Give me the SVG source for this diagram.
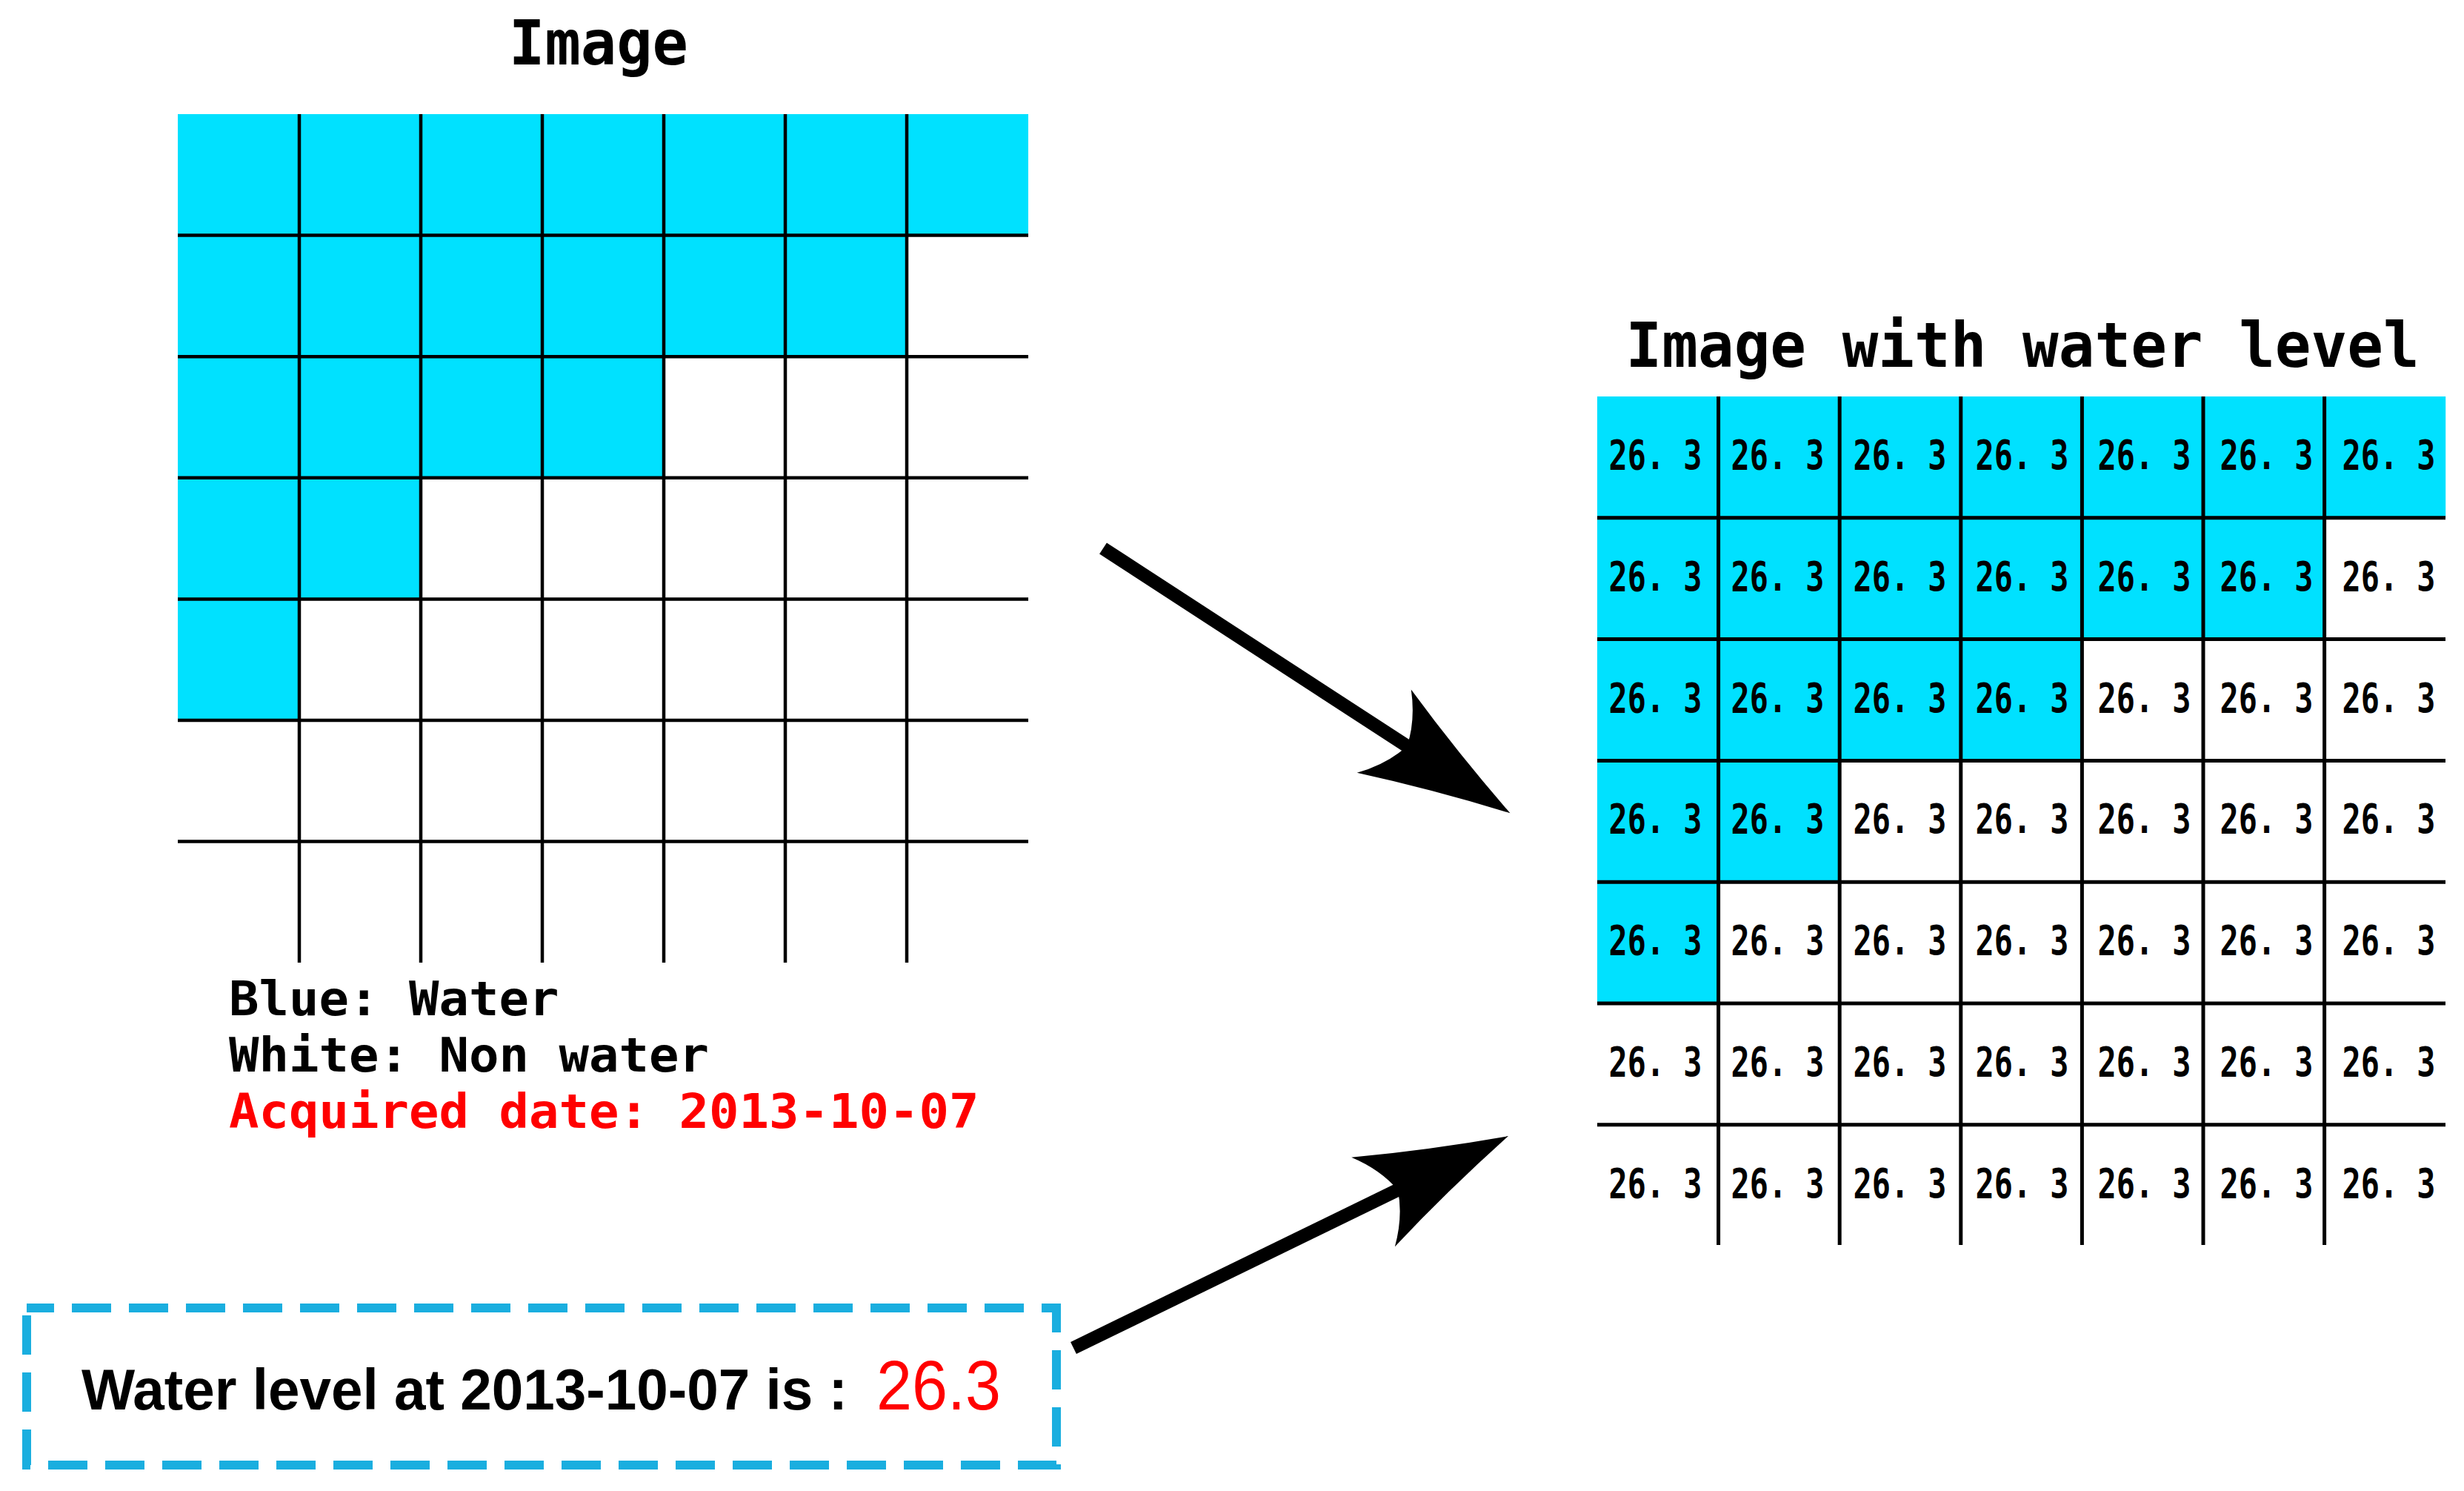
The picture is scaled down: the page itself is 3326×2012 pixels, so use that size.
<svg xmlns="http://www.w3.org/2000/svg" width="3326" height="2012" viewBox="0 0 3326 2012">
<defs>
<style>
.blue{fill:#00E1FF}
.gl{stroke:#000;stroke-width:4.5;fill:none}
.gr{stroke:#000;stroke-width:5;fill:none}
.title{font-family:"DejaVu Sans Mono","Liberation Mono",monospace;font-size:84px;font-weight:bold;fill:#000}
.legend{font-family:"DejaVu Sans Mono","Liberation Mono",monospace;font-size:64.5px;font-weight:bold;fill:#000}
.num{font-family:"DejaVu Sans Mono","Liberation Mono",monospace;font-size:55px;font-weight:bold;fill:#000;text-anchor:middle}
.red{fill:#FF0000}
.boxtxt{font-family:"Liberation Sans",Arial,sans-serif;font-size:77px;font-weight:bold;fill:#000}
.boxval{font-family:"Liberation Sans",Arial,sans-serif;font-size:94px;fill:#FF0000}
.arrow{stroke:#000;stroke-width:18;fill:none;stroke-linecap:butt}
.dash{fill:none;stroke:#1AAEDF;stroke-width:12;stroke-dasharray:53 24;stroke-dashoffset:16}
</style>
<marker id="ah" markerUnits="userSpaceOnUse" markerWidth="220" markerHeight="160" viewBox="-60 -80 220 160" refX="0" refY="0" orient="auto">
<path d="M155,0 Q50,-30 -48,-67 Q-20,-35 -11,0 Q-20,35 -48,67 Q50,30 155,0 Z" fill="#000"/>
</marker>
</defs>
<rect width="3326" height="2012" fill="#fff"/>

<g id="image-grid">
<text class="title" x="687" y="87" textLength="242" lengthAdjust="spacingAndGlyphs">Image</text>
<rect class="blue" x="240" y="154" width="1148" height="163.6"/>
<rect class="blue" x="240" y="317.6" width="984" height="163.6"/>
<rect class="blue" x="240" y="481.2" width="656" height="163.6"/>
<rect class="blue" x="240" y="644.8" width="328" height="163.6"/>
<rect class="blue" x="240" y="808.4" width="164" height="163.6"/>
<path class="gl" d="M240,317.6H1388M240,481.2H1388M240,644.8H1388M240,808.4H1388M240,972H1388M240,1135.6H1388M404,154V1299M568,154V1299M732,154V1299M896,154V1299M1060,154V1299M1224,154V1299"/>
</g>

<g id="legend">
<text class="legend" x="309" y="1370" textLength="445.5" lengthAdjust="spacingAndGlyphs">Blue: Water</text>
<text class="legend" x="309" y="1446" textLength="648" lengthAdjust="spacingAndGlyphs">White: Non water</text>
<text class="legend red" x="309" y="1522" textLength="1012.5" lengthAdjust="spacingAndGlyphs">Acquired date: 2013-10-07</text>
</g>

<g id="water-level-box">
<rect class="dash" x="36" y="1765" width="1390" height="212"/>
<text class="boxtxt" x="110" y="1902" textLength="1034" lengthAdjust="spacingAndGlyphs">Water level at 2013-10-07 is :</text>
<text class="boxval" x="1183" y="1902" textLength="168" lengthAdjust="spacingAndGlyphs">26.3</text>
</g>

<g id="image-with-water-level">
<text class="title" x="2194.6" y="495" textLength="1071" lengthAdjust="spacingAndGlyphs">Image with water level</text>
<rect class="blue" x="2156" y="535" width="1145.2" height="163.8"/>
<rect class="blue" x="2156" y="698.8" width="981.6" height="163.8"/>
<rect class="blue" x="2156" y="862.6" width="654.4" height="163.8"/>
<rect class="blue" x="2156" y="1026.4" width="327.2" height="163.8"/>
<rect class="blue" x="2156" y="1190.2" width="163.6" height="163.8"/>
<path class="gr" d="M2156,698.8H3301M2156,862.6H3301M2156,1026.4H3301M2156,1190.2H3301M2156,1354H3301M2156,1517.8H3301M2319.6,535V1680M2483.2,535V1680M2646.8,535V1680M2810.4,535V1680M2974,535V1680M3137.6,535V1680"/>
<g id="values">
<g transform="translate(0,633)">
<text class="num" x="2234.5" textLength="126" lengthAdjust="spacingAndGlyphs">26. 3</text><text class="num" x="2399.5" textLength="126" lengthAdjust="spacingAndGlyphs">26. 3</text><text class="num" x="2564.5" textLength="126" lengthAdjust="spacingAndGlyphs">26. 3</text><text class="num" x="2729.5" textLength="126" lengthAdjust="spacingAndGlyphs">26. 3</text><text class="num" x="2894.5" textLength="126" lengthAdjust="spacingAndGlyphs">26. 3</text><text class="num" x="3059.5" textLength="126" lengthAdjust="spacingAndGlyphs">26. 3</text><text class="num" x="3224.5" textLength="126" lengthAdjust="spacingAndGlyphs">26. 3</text>
</g>
<g transform="translate(0,796.8)">
<text class="num" x="2234.5" textLength="126" lengthAdjust="spacingAndGlyphs">26. 3</text><text class="num" x="2399.5" textLength="126" lengthAdjust="spacingAndGlyphs">26. 3</text><text class="num" x="2564.5" textLength="126" lengthAdjust="spacingAndGlyphs">26. 3</text><text class="num" x="2729.5" textLength="126" lengthAdjust="spacingAndGlyphs">26. 3</text><text class="num" x="2894.5" textLength="126" lengthAdjust="spacingAndGlyphs">26. 3</text><text class="num" x="3059.5" textLength="126" lengthAdjust="spacingAndGlyphs">26. 3</text><text class="num" x="3224.5" textLength="126" lengthAdjust="spacingAndGlyphs">26. 3</text>
</g>
<g transform="translate(0,960.6)">
<text class="num" x="2234.5" textLength="126" lengthAdjust="spacingAndGlyphs">26. 3</text><text class="num" x="2399.5" textLength="126" lengthAdjust="spacingAndGlyphs">26. 3</text><text class="num" x="2564.5" textLength="126" lengthAdjust="spacingAndGlyphs">26. 3</text><text class="num" x="2729.5" textLength="126" lengthAdjust="spacingAndGlyphs">26. 3</text><text class="num" x="2894.5" textLength="126" lengthAdjust="spacingAndGlyphs">26. 3</text><text class="num" x="3059.5" textLength="126" lengthAdjust="spacingAndGlyphs">26. 3</text><text class="num" x="3224.5" textLength="126" lengthAdjust="spacingAndGlyphs">26. 3</text>
</g>
<g transform="translate(0,1124.4)">
<text class="num" x="2234.5" textLength="126" lengthAdjust="spacingAndGlyphs">26. 3</text><text class="num" x="2399.5" textLength="126" lengthAdjust="spacingAndGlyphs">26. 3</text><text class="num" x="2564.5" textLength="126" lengthAdjust="spacingAndGlyphs">26. 3</text><text class="num" x="2729.5" textLength="126" lengthAdjust="spacingAndGlyphs">26. 3</text><text class="num" x="2894.5" textLength="126" lengthAdjust="spacingAndGlyphs">26. 3</text><text class="num" x="3059.5" textLength="126" lengthAdjust="spacingAndGlyphs">26. 3</text><text class="num" x="3224.5" textLength="126" lengthAdjust="spacingAndGlyphs">26. 3</text>
</g>
<g transform="translate(0,1288.2)">
<text class="num" x="2234.5" textLength="126" lengthAdjust="spacingAndGlyphs">26. 3</text><text class="num" x="2399.5" textLength="126" lengthAdjust="spacingAndGlyphs">26. 3</text><text class="num" x="2564.5" textLength="126" lengthAdjust="spacingAndGlyphs">26. 3</text><text class="num" x="2729.5" textLength="126" lengthAdjust="spacingAndGlyphs">26. 3</text><text class="num" x="2894.5" textLength="126" lengthAdjust="spacingAndGlyphs">26. 3</text><text class="num" x="3059.5" textLength="126" lengthAdjust="spacingAndGlyphs">26. 3</text><text class="num" x="3224.5" textLength="126" lengthAdjust="spacingAndGlyphs">26. 3</text>
</g>
<g transform="translate(0,1452)">
<text class="num" x="2234.5" textLength="126" lengthAdjust="spacingAndGlyphs">26. 3</text><text class="num" x="2399.5" textLength="126" lengthAdjust="spacingAndGlyphs">26. 3</text><text class="num" x="2564.5" textLength="126" lengthAdjust="spacingAndGlyphs">26. 3</text><text class="num" x="2729.5" textLength="126" lengthAdjust="spacingAndGlyphs">26. 3</text><text class="num" x="2894.5" textLength="126" lengthAdjust="spacingAndGlyphs">26. 3</text><text class="num" x="3059.5" textLength="126" lengthAdjust="spacingAndGlyphs">26. 3</text><text class="num" x="3224.5" textLength="126" lengthAdjust="spacingAndGlyphs">26. 3</text>
</g>
<g transform="translate(0,1615.8)">
<text class="num" x="2234.5" textLength="126" lengthAdjust="spacingAndGlyphs">26. 3</text><text class="num" x="2399.5" textLength="126" lengthAdjust="spacingAndGlyphs">26. 3</text><text class="num" x="2564.5" textLength="126" lengthAdjust="spacingAndGlyphs">26. 3</text><text class="num" x="2729.5" textLength="126" lengthAdjust="spacingAndGlyphs">26. 3</text><text class="num" x="2894.5" textLength="126" lengthAdjust="spacingAndGlyphs">26. 3</text><text class="num" x="3059.5" textLength="126" lengthAdjust="spacingAndGlyphs">26. 3</text><text class="num" x="3224.5" textLength="126" lengthAdjust="spacingAndGlyphs">26. 3</text>
</g>
</g>
</g>

<g id="connectors">
<path class="arrow" d="M1489,740 L1908.5,1012.8" marker-end="url(#ah)"/>
<path class="arrow" d="M1449,1819 L1896.7,1600.9" marker-end="url(#ah)"/>
</g>
</svg>
